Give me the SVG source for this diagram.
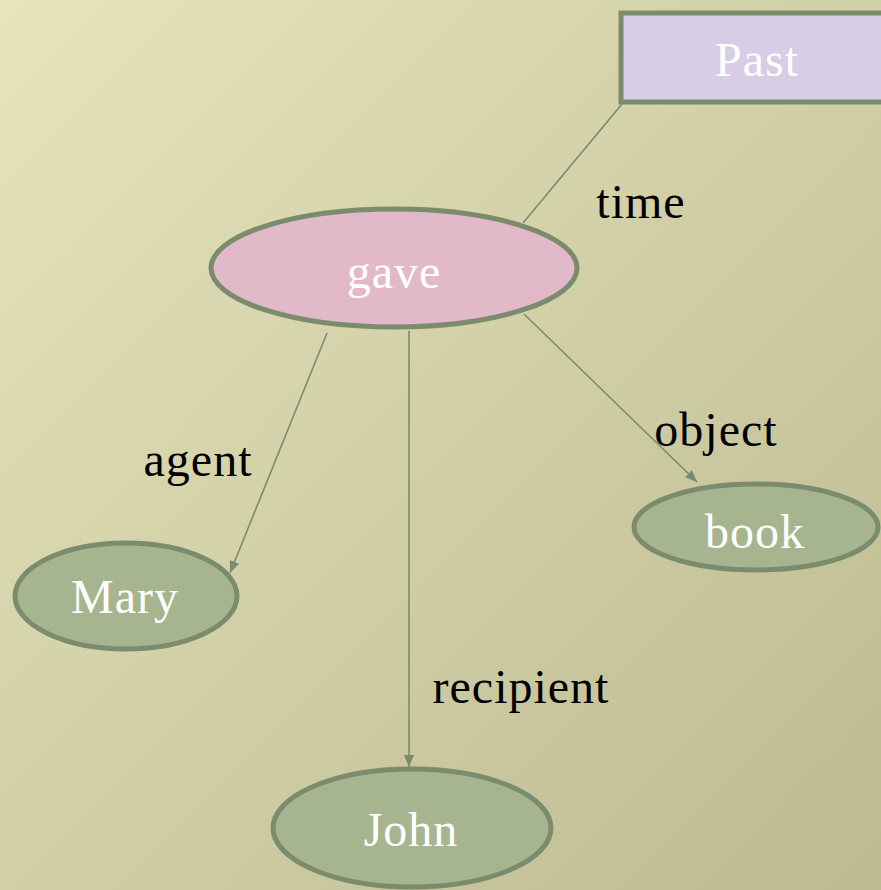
<svg xmlns="http://www.w3.org/2000/svg" width="881" height="890" viewBox="0 0 881 890">
  <defs>
    <linearGradient id="bg" x1="0" y1="0" x2="1" y2="1">
      <stop offset="0" stop-color="#e6e4bd"/>
      <stop offset="1" stop-color="#bdba90"/>
    </linearGradient>
    <marker id="arrow" viewBox="0 0 12 10" refX="12" refY="5" markerWidth="12" markerHeight="10" markerUnits="userSpaceOnUse" orient="auto">
      <path d="M0,0 L12,5 L0,10 Z" fill="#7b8b6d"/>
    </marker>
    <style>
      .node { stroke: #7b8b6d; stroke-width: 5; }
      .green { fill: #a6b590; }
      .pink { fill: #e2b9c8; }
      .lilac { fill: #d7cde4; }
      .ntext { font-family: "Liberation Serif", "Times New Roman", serif; font-size: 48px; letter-spacing: 1px; fill: #ffffff; text-anchor: middle; }
      .edge { stroke: #7b8b6d; stroke-width: 1.6; fill: none; }
      .label { font-family: "Liberation Serif", "Times New Roman", serif; font-size: 48px; letter-spacing: 1px; fill: #000000; text-anchor: middle; }
    </style>
  </defs>

  <rect x="0" y="0" width="881" height="890" fill="url(#bg)"/>

  <!-- connectors and their role labels -->
  <g id="edges">
    <line class="edge" x1="622" y1="104" x2="523" y2="223"/>
    <line class="edge" x1="327" y1="333" x2="230" y2="573" marker-end="url(#arrow)"/>
    <line class="edge" x1="409" y1="331" x2="409" y2="767" marker-end="url(#arrow)"/>
    <line class="edge" x1="524" y1="314" x2="697" y2="482" marker-end="url(#arrow)"/>
    <text class="label" x="641" y="218">time</text>
    <text class="label" x="198" y="476">agent</text>
    <text class="label" x="521" y="703">recipient</text>
    <text class="label" x="716" y="446">object</text>
  </g>

  <g id="past">
    <rect class="node lilac" x="621" y="13" width="280" height="89"/>
    <text class="ntext" x="757" y="76">Past</text>
  </g>

  <g id="gave">
    <ellipse class="node pink" cx="394" cy="268" rx="183" ry="59"/>
    <text class="ntext" x="394" y="288">gave</text>
  </g>

  <g id="mary">
    <ellipse class="node green" cx="126" cy="596" rx="111" ry="53"/>
    <text class="ntext" x="125" y="613">Mary</text>
  </g>

  <g id="book">
    <ellipse class="node green" cx="756" cy="527" rx="122" ry="43"/>
    <text class="ntext" x="755" y="548">book</text>
  </g>

  <g id="john">
    <ellipse class="node green" cx="412" cy="828" rx="139" ry="59"/>
    <text class="ntext" x="411" y="846">John</text>
  </g>
</svg>
